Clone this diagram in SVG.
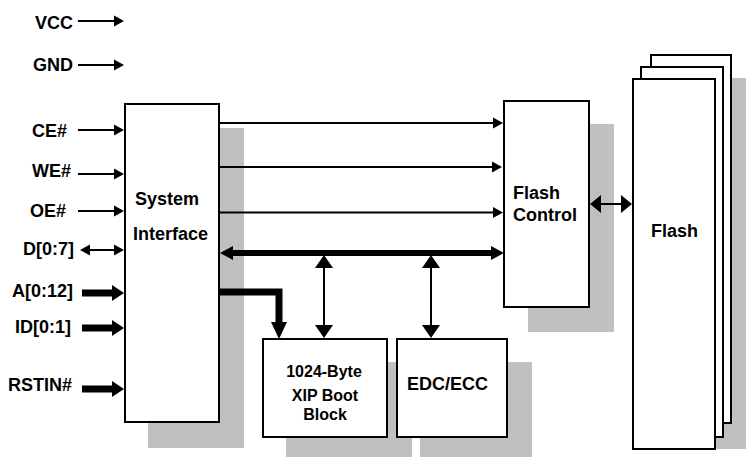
<svg xmlns="http://www.w3.org/2000/svg" width="746" height="457" viewBox="0 0 746 457">
<style>
.box{fill:#fff;stroke:#000;stroke-width:2}
.shadow{fill:#c0c0c0;stroke:none}
.t{font-family:"Liberation Sans",Arial,sans-serif;font-weight:bold;font-size:18px;fill:#000}
.ts{font-family:"Liberation Sans",Arial,sans-serif;font-weight:bold;font-size:16px;fill:#000}
.w{fill:none;stroke:#000;stroke-width:2}
.bus{fill:none;stroke:#000;stroke-width:6}
.thick{fill:none;stroke:#000;stroke-width:7;stroke-linejoin:miter}
</style>
<defs>
<marker id="ah" markerUnits="userSpaceOnUse" markerWidth="10" markerHeight="11" refX="0" refY="5.5" orient="auto-start-reverse" overflow="visible"><path d="M0,0 L10,5.5 L0,11 z" fill="#000"/></marker>
<marker id="ahv" markerUnits="userSpaceOnUse" markerWidth="13" markerHeight="18" refX="0" refY="9" orient="auto-start-reverse" overflow="visible"><path d="M0,0 L13,9 L0,18 z" fill="#000"/></marker>
<marker id="ahf" markerUnits="userSpaceOnUse" markerWidth="11" markerHeight="18" refX="0" refY="9" orient="auto-start-reverse" overflow="visible"><path d="M0,0 L11,9 L0,18 z" fill="#000"/></marker>
<marker id="ahb" markerUnits="userSpaceOnUse" markerWidth="13" markerHeight="14" refX="0" refY="7" orient="auto-start-reverse" overflow="visible"><path d="M0,0 L13,7 L0,14 z" fill="#000"/></marker>
<marker id="aht" markerUnits="userSpaceOnUse" markerWidth="12" markerHeight="16" refX="0" refY="8" orient="auto-start-reverse" overflow="visible"><path d="M0,0 L12,8 L0,16 z" fill="#000"/></marker>
<marker id="ahe" markerUnits="userSpaceOnUse" markerWidth="17" markerHeight="16" refX="0" refY="8" orient="auto-start-reverse" overflow="visible"><path d="M0,0 L17,8 L0,16 z" fill="#000"/></marker>
</defs>

<g id="flash">
<rect class="shadow" x="715" y="78" width="40" height="371"/>
<rect class="box" x="651" y="55" width="80" height="368"/>
<rect class="box" x="641" y="67" width="82" height="370"/>
<rect class="box" x="633" y="79" width="82" height="370"/>
<text class="t" x="651" y="237">Flash</text>
</g>

<g id="system-interface">
<rect class="shadow" x="148" y="128" width="96" height="320"/>
<rect class="box" x="125" y="104" width="94" height="318"/>
<text class="t" x="135" y="205">System</text>
<text class="t" x="133" y="240">Interface</text>
</g>

<g id="flash-control">
<rect class="shadow" x="528" y="124" width="86" height="208"/>
<rect class="box" x="504" y="101" width="85" height="206"/>
<text class="t" x="513" y="199">Flash</text>
<text class="t" x="513" y="221">Control</text>
</g>

<g id="boot-block">
<rect class="shadow" x="286" y="362" width="126" height="95"/>
<rect class="box" x="263" y="339" width="124" height="98"/>
<text class="ts" x="324" y="377" text-anchor="middle">1024-Byte</text>
<text class="ts" x="325" y="401" text-anchor="middle">XIP Boot</text>
<text class="ts" x="325" y="420" text-anchor="middle">Block</text>
</g>

<g id="edc-ecc">
<rect class="shadow" x="420" y="362" width="112" height="95"/>
<rect class="box" x="397" y="339" width="110" height="98"/>
<text class="t" x="407" y="390">EDC/ECC</text>
</g>

<g id="signals">
<text class="t" x="35" y="28.5">VCC</text>
<text class="t" x="33" y="71">GND</text>
<text class="t" x="32" y="137">CE#</text>
<text class="t" x="32" y="177">WE#</text>
<text class="t" x="30" y="217">OE#</text>
<text class="t" x="23" y="255">D[0:7]</text>
<text class="t" x="12" y="297">A[0:12]</text>
<text class="t" x="15" y="333">ID[0:1]</text>
<text class="t" x="8" y="391">RSTIN#</text>
</g>

<g id="connectors">
<line class="w" x1="78" y1="21" x2="114" y2="21" marker-end="url(#ah)"/>
<line class="w" x1="78" y1="65" x2="114" y2="65" marker-end="url(#ah)"/>
<line class="w" x1="78" y1="130" x2="114" y2="130" marker-end="url(#ah)"/>
<line class="w" x1="78" y1="174" x2="114" y2="174" marker-end="url(#ah)"/>
<line class="w" x1="78" y1="211" x2="114" y2="211" marker-end="url(#ah)"/>
<line class="w" x1="90" y1="250" x2="114" y2="250" marker-start="url(#ah)" marker-end="url(#ah)"/>
<line class="thick" x1="82" y1="293" x2="112" y2="293" marker-end="url(#aht)"/>
<line class="thick" x1="82" y1="328" x2="112" y2="328" marker-end="url(#aht)"/>
<line class="thick" x1="82" y1="389" x2="112" y2="389" marker-end="url(#aht)"/>

<line class="w" x1="220" y1="123" x2="493" y2="123" marker-end="url(#ah)"/>
<line class="w" x1="220" y1="167" x2="492" y2="167" marker-end="url(#ah)"/>
<line class="w" x1="220" y1="212.5" x2="493" y2="212.5" marker-end="url(#ah)"/>
<line class="bus" x1="233" y1="253" x2="491" y2="253" marker-start="url(#ahb)" marker-end="url(#ahb)"/>

<line class="w" x1="324" y1="268" x2="324" y2="325" marker-start="url(#ahv)" marker-end="url(#ahv)"/>
<line class="w" x1="431" y1="268" x2="431" y2="325" marker-start="url(#ahv)" marker-end="url(#ahv)"/>
<path class="thick" d="M220,292 H279 V322" marker-end="url(#ahe)"/>

<line class="w" x1="601" y1="204" x2="621" y2="204" marker-start="url(#ahf)" marker-end="url(#ahf)"/>
</g>
</svg>
